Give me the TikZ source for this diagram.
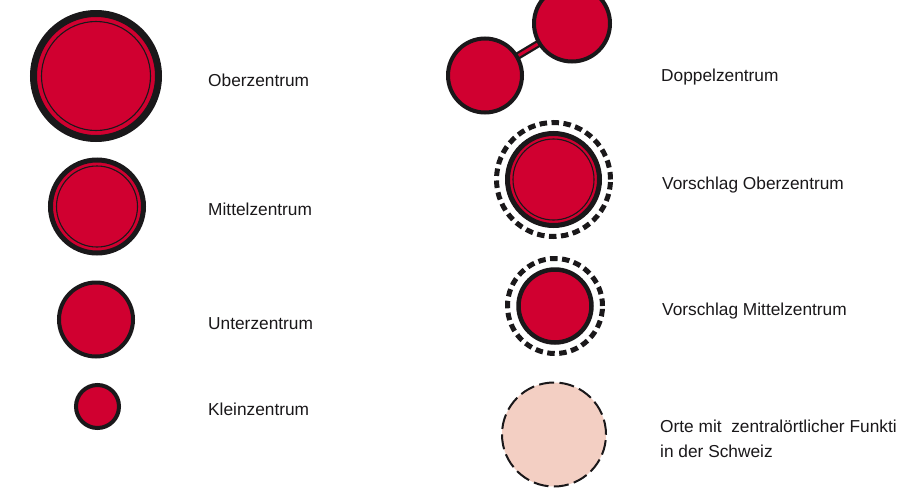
\documentclass[tikz,border=0pt]{standalone}
\usepackage{fontspec}
\setmainfont{Liberation Sans}
\definecolor{zred}{RGB}{208,0,48}
\definecolor{zpeach}{RGB}{243,207,195}
\definecolor{zblack}{RGB}{26,24,26}
\tikzset{
  sym/.style={circle, inner sep=0pt, outer sep=0pt, fill=zred, draw=zblack},
  thinring/.style={draw=zblack, line width=1.1pt},
  dashring/.style={draw=zblack, line width=5pt, dash pattern=on 7.5pt off 4.5pt},
  lbl/.style={anchor=base west, inner sep=0pt, font=\fontsize{17.3}{25}\selectfont, align=left, text=zblack}
}
\begin{document}
\begin{tikzpicture}[x=1pt, y=-1pt]
\useasboundingbox[fill=white] (0,0) rectangle (898,493);
% left column
\node[sym, line width=7pt, minimum size=125pt] (ober) at (96,76) {};
\draw[thinring] (ober.center) circle (54.5pt);
\node[sym, line width=5pt, minimum size=93pt] (mittel) at (97,206.5) {};
\draw[thinring] (mittel.center) circle (40.5pt);
\node[sym, line width=4pt, minimum size=74pt] (unter) at (96,319.5) {};
\node[sym, line width=4pt, minimum size=43pt] (klein) at (97.5,406.5) {};
% labels left
\node[lbl] (lober) at (208,86) {Oberzentrum};
\node[lbl] (lmittel) at (208,215) {Mittelzentrum};
\node[lbl] (lunter) at (208,329) {Unterzentrum};
\node[lbl] (lklein) at (208,415) {Kleinzentrum};
% Doppelzentrum
\coordinate (dlc) at (485,75.5);
\coordinate (drc) at (572,23.5);
\draw[zblack, line width=7.5pt] (dlc) -- (drc);
\draw[zred, line width=3pt] (dlc) -- (drc);
\node[sym, line width=4pt, minimum size=74pt] (dl) at (dlc) {};
\node[sym, line width=4pt, minimum size=76pt] (dr) at (drc) {};
% Vorschlag Oberzentrum
\node[sym, line width=5pt, minimum size=92pt] (vober) at (553.5,179.5) {};
\draw[thinring] (vober.center) circle (40.5pt);
\draw[dashring] (vober.center) circle (57pt);
% Vorschlag Mittelzentrum
\node[sym, line width=4.5pt, minimum size=73pt] (vmittel) at (555,306) {};
\draw[dashring] (vmittel.center) circle (47.5pt);
% Orte
\node[circle, inner sep=0pt, fill=zpeach, draw=zblack, line width=2pt, dash pattern=on 15pt off 5.4pt, minimum size=104pt] (orte) at (554,434.5) {};
% labels right
\node[lbl] (ldoppel) at (661,81) {Doppelzentrum};
\node[lbl] (lvober) at (662,189) {Vorschlag Oberzentrum};
\node[lbl] (lvmittel) at (662,315) {Vorschlag Mittelzentrum};
\node[lbl, anchor=north west] (lorte) at (660,420) {Orte mit\ \ zentralörtlicher Funkti\\in der Schweiz};
\end{tikzpicture}
\end{document}
